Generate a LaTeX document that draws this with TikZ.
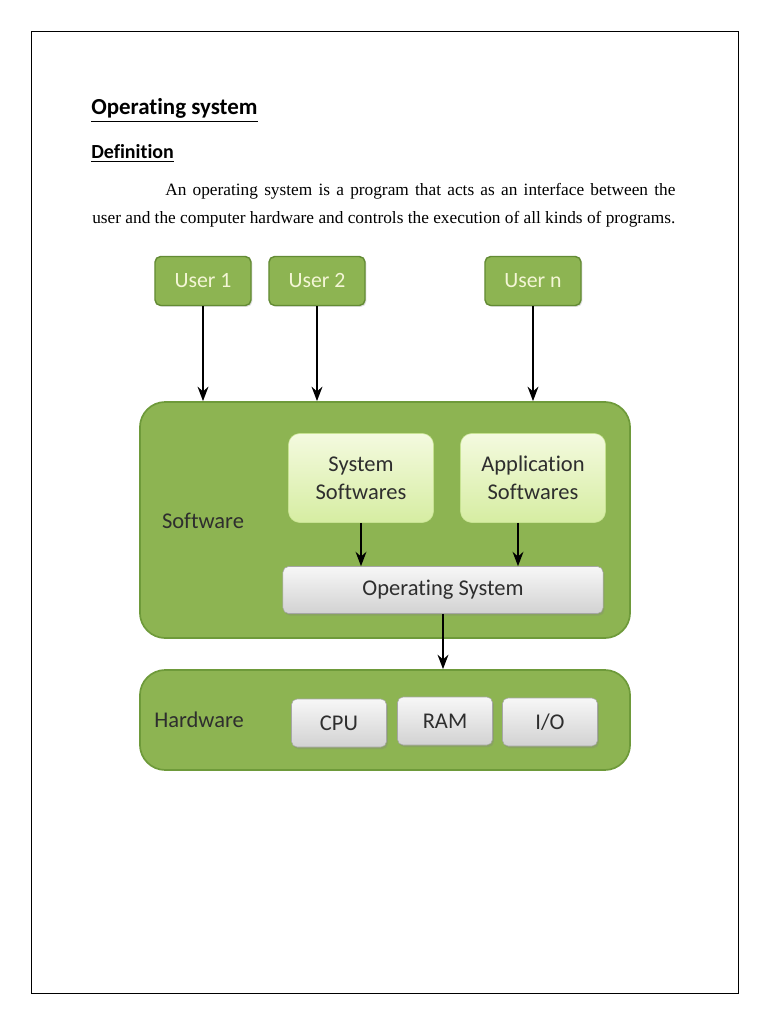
\documentclass[tikz,border=0pt]{standalone}
\usepackage{fontspec}
\setmainfont{Liberation Serif}
\newfontfamily\calibri[Ligatures=NoCommon]{Carlito}
\usepackage{tikz}
\usetikzlibrary{arrows.meta, positioning, shadows}

\definecolor{layergreen}{HTML}{8DB452}
\definecolor{layerline}{HTML}{6E9A3A}
\definecolor{usertext}{HTML}{F4F6D6}
\definecolor{softtop}{HTML}{F4FADF}
\definecolor{softbot}{HTML}{D6EDA2}
\definecolor{greytop}{HTML}{F7F7F7}
\definecolor{greybot}{HTML}{D2D2D2}
\definecolor{darktext}{HTML}{2E2E2E}

\begin{document}
\begin{tikzpicture}[
  x=0.025cm, y=-0.025cm,
  >=Stealth,
  layer/.style={draw=layerline, fill=layergreen, line width=1.2pt,
    rounded corners=18pt, minimum width=12.25cm},
  user/.style={draw=layerline!90!black, fill=layergreen, line width=1pt,
    rounded corners=4pt, minimum width=2.4cm, minimum height=1.225cm,
    font=\calibri\fontsize{15.5}{18}\selectfont, text=usertext,
    drop shadow={opacity=0.25, shadow xshift=1pt, shadow yshift=-1pt}},
  softbox/.style={draw=softbot!80!layergreen, top color=softtop, bottom color=softbot,
    rounded corners=8pt, minimum width=3.625cm, minimum height=2.225cm,
    align=center, font=\calibri\fontsize{16}{20}\selectfont, text=darktext},
  greybox/.style={draw=gray!70, top color=greytop, bottom color=greybot,
    rounded corners=4pt, font=\calibri\fontsize{16}{18}\selectfont, text=darktext,
    drop shadow={opacity=0.3, shadow xshift=1pt, shadow yshift=-1.5pt}},
  label/.style={font=\calibri\fontsize{16}{18}\selectfont, text=darktext},
  arr/.style={->, line width=1.6pt, black}
]
\useasboundingbox (0,0) rectangle (768,1024);

% page frame
\draw[line width=0.6pt] (31,31) rectangle (738,993);

% headings and definition
\node[anchor=base west, inner sep=0pt, font=\calibri\bfseries\fontsize{16.3}{18}\selectfont]
  (title) at (91,115) {\underline{Operating system}};
\node[anchor=base west, inner sep=0pt, font=\calibri\bfseries\fontsize{14.2}{16}\selectfont]
  (defn) at (91,159) {\underline{Definition}};
\node[anchor=north west, inner sep=0pt, text width=14.575cm, align=justify,
  font=\fontsize{12.3}{20}\selectfont] (para) at (92,183)
  {\hspace*{1.825cm}An operating system is a program that acts as an interface between the\linebreak
   user and the computer hardware and controls the execution of all kinds of programs.};

% users
\node[user] (u1) at (203,281) {User 1};
\node[user] (u2) at (317,281) {User 2};
\node[user] (un) at (533,281) {User n};

% software layer
\node[layer, minimum height=5.9cm] (sw) at (385,520) {};
\node[label] (swlabel) at (203,521) {Software};
\node[softbox] (sys) at (361,478) {System\\Softwares};
\node[softbox] (app) at (533,478) {Application\\Softwares};
\node[greybox, minimum width=8cm, minimum height=1.175cm] (os) at (443,590) {Operating System};

% hardware layer
\node[layer, minimum height=2.5cm] (hw) at (385,720) {};
\node[label] (hwlabel) at (199,720) {Hardware};
\node[greybox, minimum width=2.375cm, minimum height=1.2cm] (cpu) at (339,723) {CPU};
\node[greybox, minimum width=2.375cm, minimum height=1.2cm] (ram) at (445,721) {RAM};
\node[greybox, minimum width=2.375cm, minimum height=1.2cm] (io) at (550,722) {I/O};

% arrows
\draw[arr] (u1) -- (u1 |- sw.north);
\draw[arr] (u2) -- (u2 |- sw.north);
\draw[arr] (un) -- (un |- sw.north);
\draw[arr] (sys) -- (sys |- os.north);
\draw[arr] ([xshift=-0.375cm]app.south) -- ([xshift=-0.375cm]app.south |- os.north);
\draw[arr] (os.south) -- (os.south |- hw.north);

\end{tikzpicture}
\end{document}
